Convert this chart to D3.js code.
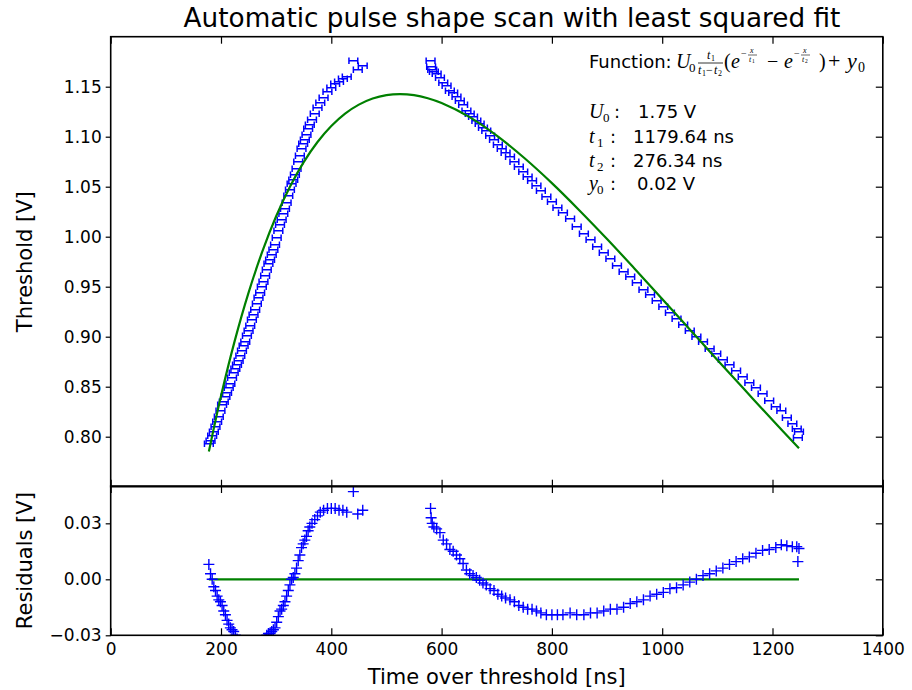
<!DOCTYPE html>
<html>
<head>
<meta charset="utf-8">
<script src="https://cdn.jsdelivr.net/npm/d3@7"></script>
<style>
  body { margin: 0; background: #fff; }
  svg text { font-family: "DejaVu Sans", sans-serif; fill: #000; }
  .math { font-family: "Liberation Serif", "DejaVu Serif", serif; font-style: italic; }
  .up { font-family: "Liberation Serif", "DejaVu Serif", serif; font-style: normal; }
</style>
</head>
<body>
<svg id="chart" width="912" height="690"></svg>
<script>
// measured points: time over threshold [ns], threshold [V], residual to fit [V]
const timeNs = [
  178, 181, 184, 187, 190, 193, 196, 199, 202, 205, 208, 211, 214, 217, 220, 223,
  226, 229, 232, 235, 238, 241, 244, 247, 250, 253, 256, 259, 262, 265, 268, 271,
  274, 277, 280, 283, 286, 289, 292, 295, 298, 301, 304, 307, 310, 313, 316, 319,
  322, 325, 328, 331, 334, 337, 340, 343, 346, 349, 352, 355, 358, 361, 365, 370,
  375, 380, 386, 393, 400, 407, 414, 421, 428, 440, 448, 457,
  580, 581, 583, 586, 591, 597, 603, 609, 615, 621, 627, 633, 639, 645, 651, 657,
  663, 669, 675, 681, 688, 695, 702, 709, 716, 724, 732, 740, 748, 756, 764, 772,
  780, 790, 800, 810, 820, 833, 845, 858, 870, 882, 894, 906, 918, 930, 942, 954,
  966, 978, 990, 1002, 1014, 1026, 1038, 1050, 1062, 1074, 1086, 1098, 1110, 1122,
  1134, 1146, 1158, 1170, 1182, 1194, 1206, 1216, 1226, 1236, 1244, 1246, 1248
];
const thresholdV = [
  0.793, 0.796, 0.801, 0.805, 0.810, 0.815, 0.820, 0.826, 0.832, 0.835, 0.840, 0.844, 0.849, 0.853, 0.859, 0.864,
  0.868, 0.872, 0.876, 0.881, 0.886, 0.891, 0.895, 0.901, 0.906, 0.911, 0.917, 0.922, 0.927, 0.933, 0.939, 0.944,
  0.950, 0.955, 0.961, 0.967, 0.973, 0.977, 0.982, 0.987, 0.992, 0.999, 1.006, 1.012, 1.017, 1.023, 1.028, 1.034,
  1.041, 1.047, 1.053, 1.057, 1.062, 1.068, 1.075, 1.081, 1.088, 1.093, 1.097, 1.102, 1.108, 1.112, 1.117, 1.123,
  1.129, 1.134, 1.139, 1.145, 1.149, 1.153, 1.155, 1.158, 1.160, 1.176, 1.167, 1.171,
  1.176, 1.170, 1.167, 1.165, 1.163, 1.159, 1.154, 1.151, 1.146, 1.144, 1.140, 1.136, 1.132, 1.126, 1.123, 1.120,
  1.116, 1.113, 1.109, 1.106, 1.101, 1.097, 1.092, 1.088, 1.084, 1.080, 1.075, 1.070, 1.065, 1.060, 1.056, 1.051,
  1.046, 1.040, 1.035, 1.029, 1.024, 1.018, 1.010, 1.003, 0.997, 0.990, 0.984, 0.978, 0.971, 0.965, 0.960, 0.954,
  0.947, 0.942, 0.936, 0.930, 0.924, 0.918, 0.912, 0.906, 0.900, 0.895, 0.888, 0.883, 0.877, 0.872,
  0.866, 0.860, 0.854, 0.849, 0.843, 0.836, 0.830, 0.826, 0.819, 0.813, 0.808, 0.799, 0.805
];
const residualV = [
  0.008, 0.003, 0.000, -0.004, -0.006, -0.009, -0.011, -0.012, -0.014, -0.017, -0.019, -0.022, -0.024, -0.026, -0.027, -0.028,
  -0.030, -0.032, -0.034, -0.035, -0.036, -0.037, -0.038, -0.038, -0.038, -0.038, -0.038, -0.038, -0.038, -0.037, -0.036, -0.035,
  -0.034, -0.033, -0.032, -0.030, -0.029, -0.029, -0.028, -0.027, -0.026, -0.023, -0.020, -0.017, -0.016, -0.014, -0.012, -0.009,
  -0.006, -0.003, 0.000, 0.001, 0.003, 0.006, 0.010, 0.013, 0.017, 0.019, 0.021, 0.023, 0.026, 0.028, 0.030, 0.032,
  0.034, 0.036, 0.037, 0.038, 0.038, 0.038, 0.037, 0.037, 0.036, 0.047, 0.035, 0.037,
  0.038, 0.033, 0.030, 0.028, 0.027, 0.025, 0.021, 0.019, 0.016, 0.015, 0.013, 0.011, 0.0085, 0.005, 0.003, 0.002,
  0.001, -0.0005, -0.002, -0.003, -0.005, -0.006, -0.008, -0.009, -0.010, -0.011, -0.012, -0.014, -0.015, -0.016, -0.016, -0.017,
  -0.018, -0.019, -0.019, -0.019, -0.019, -0.018, -0.019, -0.019, -0.018, -0.018, -0.017, -0.016, -0.016, -0.015, -0.013, -0.012,
  -0.011, -0.009, -0.008, -0.007, -0.005, -0.0045, -0.003, -0.0015, 0.000, 0.002, 0.003, 0.0045, 0.006, 0.008,
  0.0095, 0.011, 0.012, 0.014, 0.0155, 0.016, 0.017, 0.0185, 0.018, 0.0175, 0.0175, 0.0095, 0.0165
];
const xErrNs = 8;

// least squares fit curve
const fitTimeNs = [178, 200, 225, 250, 275, 300, 325, 350, 375, 400, 425, 450, 475, 500, 525, 550,
  575, 600, 650, 700, 750, 800, 850, 900, 950, 1000, 1050, 1100, 1150, 1200, 1248];
const fitThresholdV = [0.7852, 0.8407, 0.8961, 0.9441, 0.9853, 1.0204, 1.0500, 1.0746, 1.0947, 1.1107,
  1.1231, 1.1321, 1.1382, 1.1416, 1.1426, 1.1415, 1.1384, 1.1336, 1.1198, 1.1011, 1.0787, 1.0536,
  1.0263, 0.9977, 0.9680, 0.9378, 0.9073, 0.8768, 0.8466, 0.8167, 0.7885];

const fitParamNames = [["U", "0"], ["t", "1"], ["t", "2"], ["y", "0"]];
const fitParamValues = ["1.75 V", "1179.64 ns", "276.34 ns", "0.02 V"];

const xTicks = [0, 200, 400, 600, 800, 1000, 1200, 1400];
const yTicks = [0.80, 0.85, 0.90, 0.95, 1.00, 1.05, 1.10, 1.15];
const resTicks = [-0.03, 0.00, 0.03];

const svg = d3.select("#chart");
const data = timeNs.map((t, i) => ({t: t, v: thresholdV[i], r: residualV[i]}));

let x = d3.scaleLinear().domain([0, 1400]).range([110.7, 882.8]);
let y = d3.scaleLinear().domain([0.75, 1.2]).range([486.7, 36.7]);
let yr = d3.scaleLinear().domain([-0.03, 0.05]).range([635.3, 486]);

svg.append("rect").attr("width", 912).attr("height", 690).attr("fill", "#fff");

// clip regions
let defs = svg.append("defs");
defs.append("clipPath").attr("id", "clipMain").append("rect")
    .attr("x", x(0)).attr("y", y(1.2)).attr("width", x(1400) - x(0)).attr("height", y(0.75) - y(1.2));
defs.append("clipPath").attr("id", "clipRes").append("rect")
    .attr("x", x(0)).attr("y", yr(0.05)).attr("width", x(1400) - x(0)).attr("height", yr(-0.03) - yr(0.05));

//main panel: error bar markers
let main = svg.append("g").attr("clip-path", "url(#clipMain)");
main.selectAll("path.pt")
    .data(data)
    .enter()
    .append("path")
    .attr("class", "pt")
    .attr("d", d => {
        let x0 = x(d.t - xErrNs), x1 = x(d.t + xErrNs), cy = y(d.v);
        return `M${x0},${cy}H${x1}M${x0},${cy - 3.3}V${cy + 3.3}M${x1},${cy - 3.3}V${cy + 3.3}`;
    })
    .attr("fill", "none")
    .attr("stroke", "#0000ff")
    .attr("stroke-width", 1.5);

let fitLine = d3.line()
    .x(d => x(d[0]))
    .y(d => y(d[1]))
    .curve(d3.curveCatmullRom);
main.append("path")
    .datum(fitTimeNs.map((t, i) => [t, fitThresholdV[i]]))
    .attr("d", fitLine)
    .attr("fill", "none")
    .attr("stroke", "#008000")
    .attr("stroke-width", 2.2);

// residual panel
let res = svg.append("g").attr("clip-path", "url(#clipRes)");
res.append("line")
    .attr("x1", x(d3.min(fitTimeNs))).attr("x2", x(d3.max(fitTimeNs)))
    .attr("y1", yr(0)).attr("y2", yr(0))
    .attr("stroke", "#008000")
    .attr("stroke-width", 2.2);
res.selectAll("path.rp")
    .data(data)
    .enter()
    .append("path")
    .attr("class", "rp")
    .attr("d", d => {
        let cx = x(d.t), cy = yr(d.r);
        return `M${cx - 5.5},${cy}H${cx + 5.5}M${cx},${cy - 5.5}V${cy + 5.5}`;
    })
    .attr("fill", "none")
    .attr("stroke", "#0000ff")
    .attr("stroke-width", 1.4);

// axes
function styleAxis(g) {
    g.select(".domain").remove();
    g.selectAll(".tick line").attr("stroke", "#000").attr("stroke-width", 1.2);
    g.selectAll(".tick text")
        .attr("font-family", "DejaVu Sans")
        .attr("font-size", 17)
        .attr("fill", "#000");
}

svg.append("g").attr("transform", `translate(0,${y(0.75)})`)
    .call(d3.axisBottom(x).tickValues(xTicks).tickSize(-7).tickFormat(""))
    .call(styleAxis);
svg.append("g").attr("transform", `translate(0,${y(1.2)})`)
    .call(d3.axisTop(x).tickValues(xTicks).tickSize(-7).tickFormat(""))
    .call(styleAxis);
svg.append("g").attr("transform", `translate(${x(0)},0)`)
    .call(d3.axisLeft(y).tickValues(yTicks).tickSize(5).tickPadding(4).tickFormat(d3.format(".2f")))
    .call(styleAxis);
svg.append("g").attr("transform", `translate(${x(1400)},0)`)
    .call(d3.axisRight(y).tickValues(yTicks).tickSize(-7).tickFormat(""))
    .call(styleAxis);

svg.append("g").attr("transform", `translate(0,${yr(-0.03)})`)
    .call(d3.axisBottom(x).tickValues(xTicks).tickSize(-7).tickPadding(8).tickFormat(d3.format("d")))
    .call(styleAxis);
svg.append("g").attr("transform", `translate(0,${yr(0.05)})`)
    .call(d3.axisTop(x).tickValues(xTicks).tickSize(-7).tickFormat(""))
    .call(styleAxis);
svg.append("g").attr("transform", `translate(${x(0)},0)`)
    .call(d3.axisLeft(yr).tickValues(resTicks).tickSize(5).tickPadding(4).tickFormat(d3.format(".2f")))
    .call(styleAxis);
svg.append("g").attr("transform", `translate(${x(1400)},0)`)
    .call(d3.axisRight(yr).tickValues(resTicks).tickSize(-7).tickFormat(""))
    .call(styleAxis);

// frames
svg.append("rect")
    .attr("x", x(0)).attr("y", y(1.2))
    .attr("width", x(1400) - x(0)).attr("height", y(0.75) - y(1.2))
    .attr("fill", "none").attr("stroke", "#000").attr("stroke-width", 1.6);
svg.append("rect")
    .attr("x", x(0)).attr("y", yr(0.05))
    .attr("width", x(1400) - x(0)).attr("height", yr(-0.03) - yr(0.05))
    .attr("fill", "none").attr("stroke", "#000").attr("stroke-width", 1.6);

// titles and labels
svg.append("text")
    .attr("x", 512).attr("y", 27)
    .attr("text-anchor", "middle")
    .attr("font-size", 26.3)
    .text("Automatic pulse shape scan with least squared fit");
svg.append("text")
    .attr("x", (x(0) + x(1400)) / 2).attr("y", 684)
    .attr("text-anchor", "middle")
    .attr("font-size", 21)
    .text("Time over threshold [ns]");
svg.append("text")
    .attr("transform", `translate(32,${(y(0.75) + y(1.2)) / 2}) rotate(-90)`)
    .attr("text-anchor", "middle")
    .attr("font-size", 21)
    .text("Threshold [V]");
svg.append("text")
    .attr("transform", `translate(32,${(yr(-0.03) + yr(0.05)) / 2}) rotate(-90)`)
    .attr("text-anchor", "middle")
    .attr("font-size", 21)
    .text("Residuals [V]");

// fit function annotation
let ann = svg.append("g");
function put(px, py, str, size, cls) {
    let t = ann.append("text").attr("x", px).attr("y", py).attr("font-size", size).text(str);
    if (cls) t.attr("class", cls);
    return t;
}
function bar(x1, x2, py, w) {
    ann.append("line").attr("x1", x1).attr("x2", x2).attr("y1", py).attr("y2", py)
        .attr("stroke", "#000").attr("stroke-width", w);
}
put(589, 68, "Function:", 18);
put(676, 68, "U", 20, "math");
put(689, 72, "0", 13, "up");
// t1 / (t1 - t2)
put(707, 59, "t", 12, "math");
put(711, 61, "1", 8, "up");
bar(698, 723, 63, 0.8);
put(698, 74, "t", 12, "math");
put(702, 76, "1", 8, "up");
put(706, 74, "\u2212", 12, "up");
put(714, 74, "t", 12, "math");
put(718, 76, "2", 8, "up");
// (e^{-x/t1} - e^{-x/t2})
put(724, 68, "(", 20, "up");
put(731, 68, "e", 20, "math");
put(741, 57, "\u2212", 10, "up");
put(750, 53, "x", 8, "math");
bar(748, 757, 55, 0.6);
put(749, 62, "t", 8, "math");
put(752, 63, "1", 5.5, "up");
put(767, 68, "\u2212", 20, "up");
put(784, 68, "e", 20, "math");
put(794, 57, "\u2212", 10, "up");
put(803, 53, "x", 8, "math");
bar(801, 810, 55, 0.6);
put(802, 62, "t", 8, "math");
put(805, 63, "2", 5.5, "up");
put(819, 68, ")", 20, "up");
put(828, 68, "+", 22, "up");
put(847, 68, "y", 22, "math");
put(858, 72, "0", 14, "up");

const rowY = [118, 143, 167, 190];
const valueX = [638, 633, 633, 637];
fitParamNames.forEach((p, i) => {
    put(589, rowY[i], p[0], 20, "math");
    put(p[0] === "U" ? 603 : 597, rowY[i] + 4, p[1], 13, "up");
    put(p[0] === "U" ? 614 : 610, rowY[i], ":", 18);
    put(valueX[i], rowY[i], fitParamValues[i], 18);
});
</script>
</body>
</html>
